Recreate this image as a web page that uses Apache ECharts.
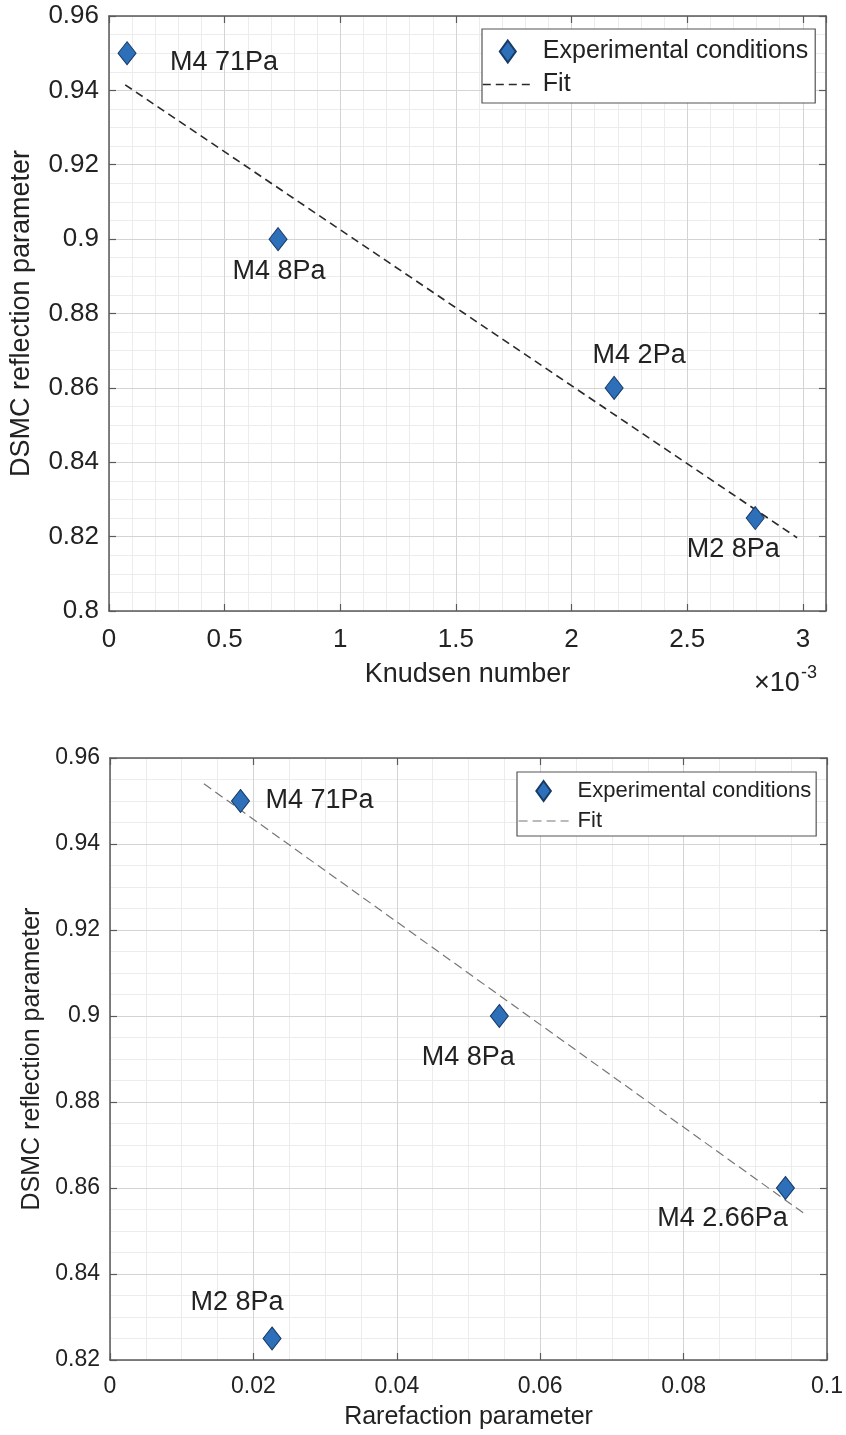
<!DOCTYPE html>
<html>
<head>
<meta charset="utf-8">
<script src="https://cdn.jsdelivr.net/npm/echarts@6/dist/echarts.min.js"></script>
<style>
html,body{margin:0;padding:0;background:#fff;}
#chart{width:846px;height:1435px;}
</style>
</head>
<body>
<div id="chart"></div>
<script>
// ---------- data ----------
const topNames = ['M4 71Pa', 'M4 8Pa', 'M4 2Pa', 'M2 8Pa'];
const topKnudsen = [0.078, 0.731, 2.184, 2.794];      // ×10^-3
const topReflection = [0.95, 0.90, 0.86, 0.825];
const topFitX = [0.07, 2.975];
const topFitY = [0.9415, 0.8197];

const botNames = ['M4 71Pa', 'M4 8Pa', 'M4 2.66Pa', 'M2 8Pa'];
const botRarefaction = [0.0182, 0.0543, 0.0942, 0.0226];
const botReflection = [0.95, 0.90, 0.86, 0.825];
const botFitX = [0.0131, 0.0967];
const botFitY = [0.954, 0.8542];

const topXTicks = [0, 0.5, 1, 1.5, 2, 2.5, 3];
const topYTicks = [0.8, 0.82, 0.84, 0.86, 0.88, 0.9, 0.92, 0.94, 0.96];
const botXTicks = [0, 0.02, 0.04, 0.06, 0.08, 0.1];
const botYTicks = [0.82, 0.84, 0.86, 0.88, 0.9, 0.92, 0.94, 0.96];

const legendScatter = 'Experimental conditions';
const legendFit = 'Fit';

// ---------- layout / style ----------
const FONT = '"Liberation Sans", Arial, Helvetica, sans-serif';
const TXT = '#222';
const AX = '#5a5a5a';
const MAJOR = '#d4d4d4';
const MINOR = '#ececec';
const topLabelOffset = [[97, 9], [1, 32], [25, -32], [-22, 32]];
const botLabelOffset = [[79, 0], [-31, 42], [-63, 31], [-35, -36]];

function inTicks(list, v) {
  for (const t of list) if (Math.abs(t - v) < 1e-9) return String(t);
  return '';
}

function axesFor(grid, dim, o) {
  // main, mirrored box side, minor grid
  const isX = dim === 'x';
  const main = {
    type: 'value', gridIndex: grid, min: o.min, max: o.max, interval: o.interval,
    position: isX ? 'bottom' : 'left', z: 1,
    name: o.name, nameLocation: 'middle', nameGap: o.nameGap,
    nameTextStyle: {fontFamily: FONT, fontSize: o.nameSize, color: TXT},
    axisLine: {show: true, onZero: false, lineStyle: {color: AX, width: 1.5}},
    axisTick: {show: true, inside: true, length: 7, lineStyle: {color: AX, width: 1.2}},
    axisLabel: {show: true, margin: o.labelMargin, fontFamily: FONT, fontSize: o.labelSize, color: TXT,
      showMaxLabel: true, formatter: v => inTicks(o.ticks, v)},
    splitLine: {show: true, lineStyle: {color: MAJOR, width: 1}}
  };
  const mirror = {
    type: 'value', gridIndex: grid, min: o.min, max: o.max, interval: o.interval,
    position: isX ? 'top' : 'right', z: 1,
    axisLine: {show: true, onZero: false, lineStyle: {color: AX, width: 1.5}},
    axisTick: {show: true, inside: true, length: 7, lineStyle: {color: AX, width: 1.2}},
    axisLabel: {show: false},
    splitLine: {show: false}
  };
  const minor = {
    type: 'value', gridIndex: grid, min: o.min, max: o.max, interval: o.minor,
    position: isX ? 'bottom' : 'left', z: 0,
    axisLine: {show: false}, axisTick: {show: false}, axisLabel: {show: false},
    splitLine: {show: true, lineStyle: {color: MINOR, width: 1}}
  };
  return [main, mirror, minor];
}

const xAxes = [
  ...axesFor(0, 'x', {min: 0, max: 3.1, interval: 0.5, minor: 0.1, ticks: topXTicks,
    name: 'Knudsen number', nameGap: 50, nameSize: 27, labelSize: 26, labelMargin: 16}),
  ...axesFor(1, 'x', {min: 0, max: 0.1, interval: 0.02, minor: 0.005, ticks: botXTicks,
    name: 'Rarefaction parameter', nameGap: 45, nameSize: 25, labelSize: 23, labelMargin: 15})
];
const yAxes = [
  ...axesFor(0, 'y', {min: 0.8, max: 0.96, interval: 0.02, minor: 0.005, ticks: topYTicks,
    name: 'DSMC reflection parameter', nameGap: 74, nameSize: 27, labelSize: 26, labelMargin: 10}),
  ...axesFor(1, 'y', {min: 0.82, max: 0.96, interval: 0.02, minor: 0.005, ticks: botYTicks,
    name: 'DSMC reflection parameter', nameGap: 63, nameSize: 25, labelSize: 23, labelMargin: 10})
];

function scatterSeries(xi, yi, names, xs, ys, offsets, labelSize) {
  return {
    type: 'scatter', name: legendScatter, xAxisIndex: xi, yAxisIndex: yi,
    symbol: 'diamond', symbolSize: [18, 23], z: 5,
    itemStyle: {color: '#2e6fba', borderColor: '#173a66', borderWidth: 1, opacity: 1},
    data: xs.map((x, i) => ({
      value: [x, ys[i]], name: names[i],
      label: {show: true, position: 'inside', offset: offsets[i], formatter: '{b}',
        fontFamily: FONT, fontSize: labelSize, color: TXT}
    }))
  };
}
function fitSeries(xi, yi, xs, ys, style) {
  return {
    type: 'line', name: legendFit, xAxisIndex: xi, yAxisIndex: yi, z: 4,
    symbol: 'none', showSymbol: false, silent: true,
    lineStyle: style, itemStyle: {color: 'rgba(0,0,0,0)', borderWidth: 0},
    data: xs.map((x, i) => [x, ys[i]])
  };
}

const diamondIcon = 'path://M8,0L16,11L8,22L0,11Z';
const hiddenSymbol = {color: 'rgba(0,0,0,0)', borderColor: 'rgba(0,0,0,0)', borderWidth: 0, opacity: 0};

const option = {
  backgroundColor: '#fff',
  animation: false,
  grid: [
    {left: 109, top: 16, width: 717, height: 595},
    {left: 110, top: 758, width: 720, height: 602}
  ],
  xAxis: xAxes,
  yAxis: yAxes,
  legend: [
    {
      left: 482, top: 29, orient: 'vertical', itemWidth: 50, itemHeight: 22, itemGap: 8,
      padding: [10, 7, 6, 0], backgroundColor: '#fff', borderColor: '#555', borderWidth: 1.2,
      data: [{name: legendScatter, icon: diamondIcon},
             {name: legendFit, itemStyle: hiddenSymbol, lineStyle: {color: '#2a2a2a', width: 1.6, type: [8, 5]}}],
      textStyle: {fontFamily: FONT, fontSize: 25, color: TXT, padding: [0, 0, 0, 5]},
      selectedMode: false
    },
    {
      left: 517, top: 772, orient: 'vertical', itemWidth: 50, itemHeight: 20, itemGap: 8,
      padding: [8, 5, 4, 1], backgroundColor: '#fff', borderColor: '#555', borderWidth: 1.2,
      data: [{name: legendScatter, icon: diamondIcon},
             {name: legendFit, itemStyle: hiddenSymbol, lineStyle: {color: '#777', width: 1.2, type: [9, 5]}}],
      textStyle: {fontFamily: FONT, fontSize: 22, color: TXT, padding: [0, 0, 0, 4]},
      selectedMode: false
    }
  ],
  series: [
    fitSeries(0, 0, topFitX, topFitY, {type: [8, 5], width: 1.6, color: '#2a2a2a'}),
    scatterSeries(0, 0, topNames, topKnudsen, topReflection, topLabelOffset, 27),
    fitSeries(3, 3, botFitX, botFitY, {type: [9, 5], width: 1.2, color: '#777'}),
    scatterSeries(3, 3, botNames, botRarefaction, botReflection, botLabelOffset, 27)
  ],
  graphic: [
    {type: 'text', left: 754, top: 670, style: {text: '×10', fontFamily: FONT, fontSize: 27, fill: TXT}},
    {type: 'text', left: 801, top: 664, style: {text: '-3', fontFamily: FONT, fontSize: 18, fill: TXT}}
  ]
};

const chart = echarts.init(document.getElementById('chart'), null, {renderer: 'canvas'});
chart.setOption(option);
</script>
</body>
</html>
